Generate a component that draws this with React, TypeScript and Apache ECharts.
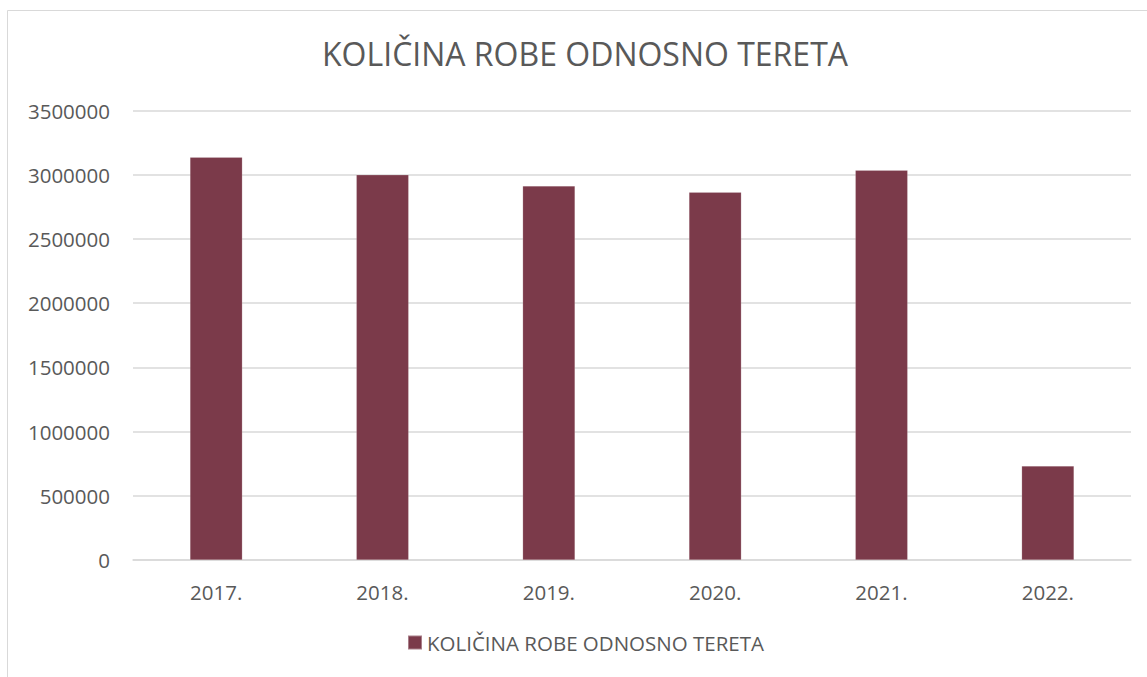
import React, { useEffect, useRef } from "react";
import * as echarts from "echarts";

const categories = ["2017.", "2018.", "2019.", "2020.", "2021.", "2022."];
const values = [3136000, 2999000, 2913000, 2864000, 3035000, 732000];
const seriesName = "KOLIČINA ROBE ODNOSNO TERETA";
const titleText = "KOLIČINA ROBE ODNOSNO TERETA";

const FONT = "'Open Sans', 'Noto Sans', sans-serif";
const TEXT = "#595959";

export default function App() {
  const ref = useRef<HTMLDivElement>(null);
  useEffect(() => {
    if (!ref.current) return;
    const chart = echarts.init(ref.current, null, { renderer: "svg" });
    chart.setOption({
      animation: false,
      backgroundColor: "#ffffff",
      title: {
        text: titleText,
        left: 322,
        top: 37,
        padding: 0,
        textStyle: { fontFamily: FONT, fontSize: 32, fontWeight: "normal", color: TEXT },
      },
      graphic: [
        {
          type: "rect",
          shape: { x: 7.5, y: 10.5, width: 1200, height: 700 },
          style: { fill: "none", stroke: "#d9d9d9", lineWidth: 1 },
          silent: true,
        },
      ],
      legend: {
        bottom: 19,
        left: 402,
        itemWidth: 14,
        itemHeight: 14,
        itemGap: 6,
        icon: "rect",
        textStyle: { fontFamily: FONT, fontSize: 20.5, color: TEXT },
        data: [seriesName],
      },
      grid: { left: 133, right: 16, top: 110.5, bottom: 117, containLabel: false },
      xAxis: {
        type: "category",
        data: categories,
        axisLine: { show: true, lineStyle: { color: "#d9d9d9", width: 1.5 } },
        axisTick: { show: false },
        axisLabel: { fontFamily: FONT, fontSize: 20.5, color: TEXT, margin: 21 },
      },
      yAxis: {
        type: "value",
        min: 0,
        max: 3500000,
        interval: 500000,
        axisLine: { show: false },
        axisTick: { show: false },
        splitLine: { lineStyle: { color: "#d9d9d9", width: 1.5 } },
        axisLabel: {
          fontFamily: FONT,
          fontSize: 20.5,
          color: TEXT,
          margin: 23,
          formatter: (v: number) => String(v),
        },
      },
      series: [
        {
          name: seriesName,
          type: "bar",
          data: values,
          barWidth: "31.5%",
          itemStyle: { color: "#7b3a4a", borderColor: "rgba(255,255,255,0.35)", borderWidth: 0.5 },
        },
      ],
    });
    return () => chart.dispose();
  }, []);
  return (
    <div
      ref={ref}
      style={{ position: "fixed", left: 0, top: 0, width: 1147, height: 677 }}
    />
  );
}
